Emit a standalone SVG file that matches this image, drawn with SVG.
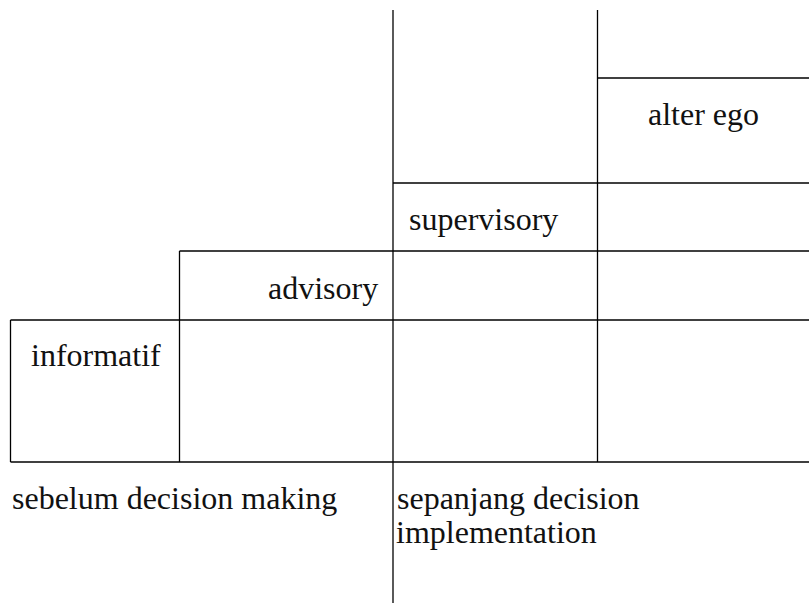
<svg xmlns="http://www.w3.org/2000/svg" width="809" height="604" viewBox="0 0 809 604">
  <style>
    .ln { stroke: #000; stroke-width: 1.3; fill: none; }
    .lbl { font-family: "Liberation Serif", "Times New Roman", serif; font-size: 32px; fill: #111; }
  </style>
  <rect width="809" height="604" fill="#fff"/>
  <!-- grid lines forming the staircase of cells -->
  <g id="connectors">
    <line class="ln" x1="10.5" y1="320" x2="10.5" y2="462"/>
    <line class="ln" x1="179.5" y1="251" x2="179.5" y2="462"/>
    <line class="ln" x1="393" y1="10" x2="393" y2="603"/>
    <line class="ln" x1="597.5" y1="10" x2="597.5" y2="462"/>
    <line class="ln" x1="597.5" y1="78" x2="809" y2="78"/>
    <line class="ln" x1="393" y1="183" x2="809" y2="183"/>
    <line class="ln" x1="179.5" y1="251" x2="809" y2="251"/>
    <line class="ln" x1="10.5" y1="320" x2="809" y2="320"/>
    <line class="ln" x1="10.5" y1="462" x2="809" y2="462"/>
  </g>
  <g id="informatif"><text class="lbl" x="31" y="366">informatif</text></g>
  <g id="advisory"><text class="lbl" x="268" y="299">advisory</text></g>
  <g id="supervisory"><text class="lbl" x="409" y="230">supervisory</text></g>
  <g id="alter-ego"><text class="lbl" x="648" y="125">alter ego</text></g>
  <g id="sebelum"><text class="lbl" x="12" y="509">sebelum decision making</text></g>
  <g id="sepanjang">
    <text class="lbl" x="397" y="509">sepanjang decision</text>
    <text class="lbl" x="396" y="543">implementation</text>
  </g>
</svg>
